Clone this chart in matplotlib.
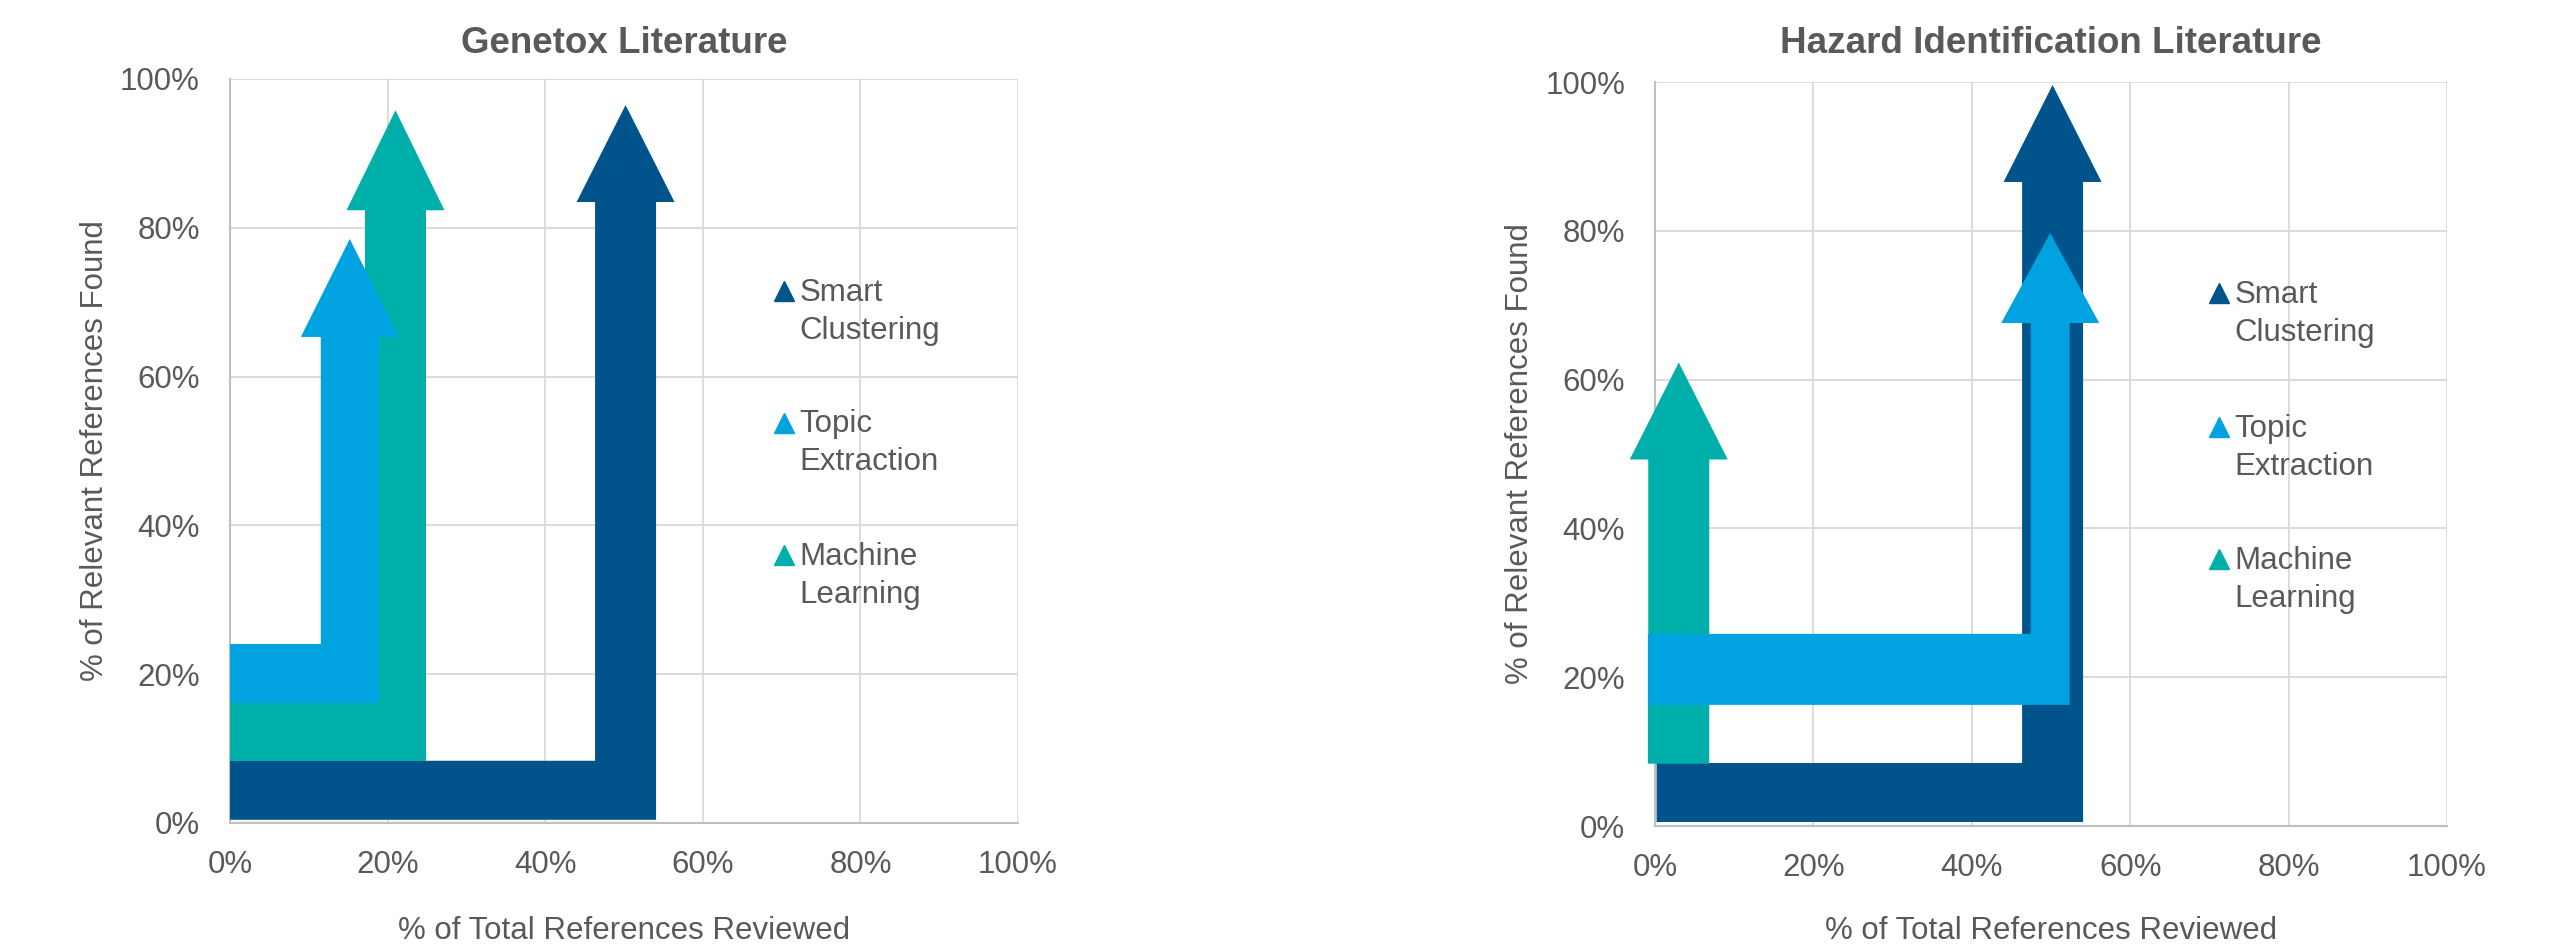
import matplotlib
matplotlib.use('Agg')
import matplotlib.pyplot as plt
from matplotlib.patches import Polygon

plt.rcParams['font.family'] = ['Liberation Sans', 'DejaVu Sans']

# ---------------- data ----------------
series = ['Smart Clustering', 'Topic Extraction', 'Machine Learning']
legend_labels = ['Smart\nClustering', 'Topic\nExtraction', 'Machine\nLearning']
ticks = [0, 20, 40, 60, 80, 100]
tick_labels = ['0%', '20%', '40%', '60%', '80%', '100%']

# Genetox Literature (values in %)
genetox_start_x = [0.0, 0.0, 0.0]      # % reviewed where each path starts
genetox_level = [4.4, 20.1, 12.3]      # % found along the horizontal leg
genetox_turn_x = [50.2, 15.2, 21.0]    # % reviewed where the path turns up
genetox_end = [96.5, 78.5, 95.8]       # % found at the arrow tip

# Hazard Identification Literature (values in %)
hazard_start_x = [0.2, -0.9, -0.9]
hazard_level = [4.5, 21.05, 12.47]
hazard_turn_x = [50.2, 49.9, 3.0]
hazard_end = [99.6, 79.7, 62.3]

# ---------------- style ----------------
colors = ['#00548B', '#00A3E0', '#00AFAA']
draw_order = [0, 2, 1]
TEXT = '#595959'
GRID = '#D9D9D9'
FS = 22.5
FS_TITLE = 26.5

W, H = 2550, 949
fig = plt.figure(figsize=(W / 100, H / 100), dpi=100)


def add_axes_px(x0, y_top, x1, y_bot):
    return fig.add_axes([x0 / W, 1 - y_bot / H, (x1 - x0) / W, (y_bot - y_top) / H])


def draw_chart(ax, title, sx_list, lvl, tx, end, widths, head_len, leg_x, text_x, leg_y,
               title_y, xlabel_y, ylabel_x):
    ax.set_xlim(0, 100)
    ax.set_ylim(0, 100)
    ax.set_xticks(ticks)
    ax.set_yticks(ticks)
    ax.set_xticklabels(tick_labels)
    ax.set_yticklabels(tick_labels)
    ax.grid(True, color=GRID, linewidth=1.3, zorder=0)
    ax.set_axisbelow(True)
    for s in ['top', 'right']:
        ax.spines[s].set_visible(False)
    for s in ['left', 'bottom']:
        ax.spines[s].set_color('#BFBFBF')
        ax.spines[s].set_linewidth(1.5)
    ax.tick_params(axis='both', length=0, labelsize=FS, labelcolor=TEXT)
    ax.tick_params(axis='x', pad=19.1)
    ax.tick_params(axis='y', pad=21.6)

    fig.canvas.draw()
    p0 = ax.transData.transform((0, 0))
    p1 = ax.transData.transform((1, 1))
    px_x = p1[0] - p0[0]
    px_y = p1[1] - p0[1]
    head_w = 98

    for i in draw_order:
        hpx, vpx = widths[i]
        hh = hpx / 2 / px_y
        hv = vpx / 2 / px_x
        hw = head_w / 2 / px_x
        hl = head_len[i] / px_y
        x0, y0, x1, yt = sx_list[i], lvl[i], tx[i], end[i]
        yb = yt - hl
        pts = [(x0, y0 - hh), (x1 + hv, y0 - hh), (x1 + hv, yb), (x1 + hw, yb),
               (x1, yt), (x1 - hw, yb), (x1 - hv, yb), (x1 - hv, y0 + hh), (x0, y0 + hh)]
        ax.add_patch(Polygon(pts, closed=True, facecolor=colors[i], edgecolor='none',
                             zorder=3, clip_on=False))

    for i in range(3):
        yc = leg_y[i]
        ax.plot([leg_x], [yc], marker='^', ms=14.4, color=colors[i], linestyle='none',
                zorder=4, clip_on=False)
        ax.text(text_x, yc + 13.3 / px_y, legend_labels[i], fontsize=FS, color=TEXT,
                ha='left', va='top', linespacing=1.35, zorder=4)

    ax.set_title(title, fontsize=FS_TITLE, fontweight='bold', color=TEXT, pad=0,
                 y=title_y, va='baseline')
    ax.set_xlabel('% of Total References Reviewed', fontsize=FS, color=TEXT,
                  va='baseline')
    ax.xaxis.set_label_coords(0.5, xlabel_y)
    ax.set_ylabel('% of Relevant References Found', fontsize=FS, color=TEXT,
                  va='baseline', ha='center', rotation=90, rotation_mode='anchor')
    ax.yaxis.set_label_coords(ylabel_x, 0.5)


ax1 = add_axes_px(230, 79, 1018, 823)
draw_chart(ax1, 'Genetox Literature', genetox_start_x, genetox_level, genetox_turn_x,
           genetox_end,
           widths=[(59, 61), (59, 58), (59, 61)],
           head_len=[97, 98, 100],
           leg_x=70.3, text_x=72.3, leg_y=[71.5, 53.8, 36.0],
           title_y=1.0353, xlabel_y=-0.1559, ylabel_x=-0.1608)

ax2 = add_axes_px(1655, 82, 2447, 826)
draw_chart(ax2, 'Hazard Identification Literature', hazard_start_x, hazard_level,
           hazard_turn_x, hazard_end,
           widths=[(59, 61), (71, 39), (61, 61)],
           head_len=[97, 90, 97],
           leg_x=71.2, text_x=73.2, leg_y=[71.6, 53.6, 35.9],
           title_y=1.0394, xlabel_y=-0.1519, ylabel_x=-0.160)

fig.savefig('out.png', dpi=100, facecolor='white')
